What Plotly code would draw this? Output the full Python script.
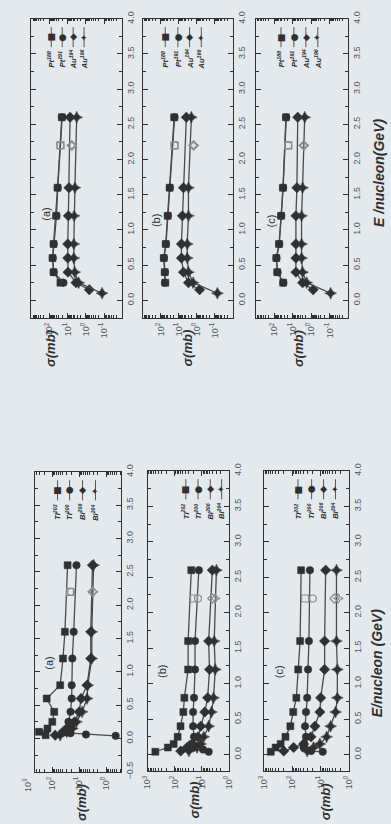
import plotly.graph_objects as go

# ---------------- data ----------------
# Top row : Pt / Au products, panels (a) (b) (c)
E_pt = [0.25, 0.4, 0.6, 0.8, 1.2, 1.6, 2.6]
E_au1 = [0.15, 0.25, 0.4, 0.6, 0.8, 1.2, 1.6, 2.6]
E_au2 = [0.1, 0.25, 0.4, 0.6, 0.8, 1.2, 1.6, 2.6]
E_exp = [2.2]

ta_pt188 = [25, 60, 68, 60, 43, 36, 21]
ta_pt191 = [17, 58, 66, 58, 41, 35, 20]
ta_au1 = [0.65, 3.5, 9.6, 9.9, 9.9, 9.2, 8.5, 7.4]
ta_au2 = [0.13, 2.5, 4.1, 4.6, 4.6, 4.4, 4.0, 3.2]
ta_exp_pt = [25]
ta_exp_au = [5.9]

tb_pt188 = [56, 60, 68, 53, 41, 32, 18]
tb_pt191 = [58, 58, 66, 51, 40, 31, 17]
tb_au1 = [0.7, 2.9, 5.5, 7.1, 7.1, 6.3, 5.5, 3.8]
tb_au2 = [0.072, 1.6, 2.9, 3.4, 3.4, 2.9, 2.9, 2.0]
tb_exp_pt = [17]
tb_exp_au = [1.5]

tc_pt188 = [34, 71, 80, 57, 44, 35, 24]
tc_pt191 = [33, 69, 78, 55, 43, 34, 23]
tc_au1 = [0.8, 3.0, 6.9, 6.9, 6.9, 6.9, 6.1, 5.5]
tc_au2 = [0.09, 1.8, 3.0, 3.4, 3.4, 3.4, 3.0, 2.3]
tc_exp_pt = [18]
tc_exp_au = [2.6]

# Bottom row : Tl / Bi products, panels (a) (b) (c)
E_bot = [0.05, 0.1, 0.15, 0.25, 0.4, 0.6, 0.8, 1.2, 1.6, 2.6]

ba_tl202 = [178, 316, 151, 100, 85, 162, 51, 40, 34, 27]
ba_E_tl200 = [0.04, 0.06, 0.08, 0.1, 0.15, 0.25, 0.4, 0.6, 0.8, 1.2, 1.6, 2.6]
ba_tl200 = [0.44, 5.6, 21, 34, 29, 25, 21, 19, 19, 18, 16, 12.6]
ba_bi206 = [78, 40, 22, 15, 10, 8.5, 5.1, 3.7, 3.7, 3.2]
ba_bi204 = [51, 29, 18, 12.6, 7.8, 5.1, 4.8, 3.4, 3.4, 2.9]
ba_exp_tl = [22, 20]
ba_exp_bi = [3.2, 3.0]

bb_E_tl202 = [0.04, 0.1, 0.15, 0.25, 0.4, 0.6, 0.8, 1.2, 1.6, 2.6]
bb_tl202 = [516, 178, 109, 78, 61, 48, 44, 32, 32, 24.5]
bb_E_tl200 = [0.04, 0.07, 0.1, 0.15, 0.25, 0.4, 0.6, 0.8, 1.2, 1.6, 2.6]
bb_tl200 = [5.6, 9, 20, 24.5, 19.4, 21, 21, 19.4, 17.8, 17.8, 12.9]
bb_bi206 = [60, 35, 22, 13.9, 11, 7.8, 6.1, 5.2, 5.6, 4.1]
bb_bi204 = [30, 15, 11, 8.5, 5.6, 4.4, 3.7, 3.2, 3.5, 2.9]
bb_exp_tl = [19.4, 13.9]
bb_exp_bi = [4.1, 3.2]

bc_E_tl202 = [0.04, 0.1, 0.15, 0.25, 0.4, 0.6, 0.8, 1.2, 1.6, 2.6]
bc_tl202 = [570, 385, 257, 174, 117, 93, 72, 62, 53, 49]
bc_E_tl200 = [0.04, 0.05, 0.1, 0.15, 0.25, 0.4, 0.6, 0.8, 1.2, 1.6, 2.6]
bc_tl200 = [8.5, 22, 40, 38, 33, 35.6, 33, 30, 28, 26, 24]
bc_bi206 = [200, 90, 40, 22, 16, 10.7, 10, 7.3, 7.3, 6.7]
bc_bi204 = [30, 18, 10.7, 6.2, 4.5, 3.0, 2.6, 2.6, 2.8, 2.8]
bc_exp_tl = [35.6, 19]
bc_exp_bi = [3.3, 2.4]

top_legend = ["Pt<sup>188</sup>", "Pt<sup>191</sup>", "Au<sup>194</sup>", "Au<sup>196</sup>"]
bot_legend = ["Tl<sup>202</sup>", "Tl<sup>200</sup>", "Bi<sup>206</sup>", "Bi<sup>204</sup>"]
panel_tags = ["(a)", "(b)", "(c)"]

# ---------------- styling / layout ----------------
W, H = 391, 824
BG = "#e3e9ed"
INK = "#303030"
LINE = "#4a4a4a"
OPEN = "#8a8a8a"
FONT = "Liberation Sans, Arial, sans-serif"

# panel frames in pixels: (left, right, top, bottom)
frames = [
    (25, 119, 11, 316), (140, 233, 11, 316), (257, 352, 11, 316),
    (29, 118, 473, 779), (145, 229, 472, 778), (265, 353, 472, 778),
]
sig_ranges = [[3, -2], [3, -2], [3, -2], [2.64, -0.57], [3.0, 0.0], [3.0, 0.0]]
E_ranges = [[-0.25, 4.0]] * 3 + [[-0.5, 4.0], [-0.23, 4.0], [-0.23, 4.0]]
sig_ticks = [[100, 10, 1, 0.1]] * 3 + [[100, 10, 1], [1000, 100, 10, 1], [1000, 100, 10, 1]]
sup = {1000: "3", 100: "2", 10: "1", 1: "0", 0.1: "-1"}
minor_vals = [k * 10.0 ** p for p in range(-3, 4) for k in range(2, 10)]


def sfx(n):
    return "" if n == 1 else str(n)


fig = go.Figure()


def series(n, E, sig, symbol, size=7.5):
    fig.add_trace(go.Scatter(
        x=sig, y=E, xaxis="x" + sfx(n), yaxis="y" + sfx(n), mode="lines+markers",
        line=dict(color=LINE, width=1.3),
        marker=dict(symbol=symbol, size=size, color=INK, line=dict(color=INK, width=0.5)),
        showlegend=False, hoverinfo="skip", cliponaxis=True))


def exp_pts(n, vals, symbols):
    for v, s in zip(vals, symbols):
        fig.add_trace(go.Scatter(
            x=[v], y=E_exp, xaxis="x" + sfx(n), yaxis="y" + sfx(n), mode="markers",
            marker=dict(symbol=s, size=7, color=OPEN, line=dict(color=OPEN, width=1.2)),
            showlegend=False, hoverinfo="skip"))


# top panels
top_sets = [
    (ta_pt188, ta_pt191, ta_au1, ta_au2, ta_exp_pt, ta_exp_au),
    (tb_pt188, tb_pt191, tb_au1, tb_au2, tb_exp_pt, tb_exp_au),
    (tc_pt188, tc_pt191, tc_au1, tc_au2, tc_exp_pt, tc_exp_au),
]
for i, (p1, p2, a1, a2, ep, ea) in enumerate(top_sets):
    n = i + 1
    series(n, E_au1, a1, "diamond", 8)
    series(n, E_au2, a2, "star-diamond", 8.5)
    series(n, E_pt, p2, "circle", 7.5)
    series(n, E_pt, p1, "square", 7)
    exp_pts(n, ep * 2, ["square-open", "circle-open"])
    exp_pts(n, ea * 2, ["diamond-open", "star-diamond-open"])

bot_sets = [
    (E_bot, ba_tl202, ba_E_tl200, ba_tl200, ba_bi206, ba_bi204, ba_exp_tl, ba_exp_bi),
    (bb_E_tl202, bb_tl202, bb_E_tl200, bb_tl200, bb_bi206, bb_bi204, bb_exp_tl, bb_exp_bi),
    (bc_E_tl202, bc_tl202, bc_E_tl200, bc_tl200, bc_bi206, bc_bi204, bc_exp_tl, bc_exp_bi),
]
for i, (et2, t2, et0, t0, b6, b4, etl, ebi) in enumerate(bot_sets):
    n = i + 4
    series(n, E_bot, b4, "star-diamond", 8.5)
    series(n, E_bot, b6, "diamond", 8)
    series(n, et0, t0, "circle", 7.5)
    series(n, et2, t2, "square", 7)
    exp_pts(n, etl, ["square-open", "circle-open"])
    exp_pts(n, ebi, ["diamond-open", "star-diamond-open"])

layout = dict(
    width=W, height=H, margin=dict(l=0, r=0, t=0, b=0),
    paper_bgcolor=BG, plot_bgcolor=BG, showlegend=False,
    font=dict(family=FONT, color=INK),
)
for i, (L, R, T, B) in enumerate(frames):
    n = i + 1
    tv = sig_ticks[i]
    layout["xaxis" + sfx(n)] = dict(
        domain=[L / W, R / W], anchor="y" + sfx(n), type="log", range=sig_ranges[i],
        tickmode="array", tickvals=tv, ticktext=[f"10<sup>{sup[v]}</sup>" for v in tv],
        tickangle=-90, ticks="inside", ticklen=5, tickwidth=1, tickcolor=INK,
        minor=dict(tickmode="array", tickvals=minor_vals, ticks="inside", ticklen=2.5,
                   tickwidth=0.8, tickcolor=INK, showgrid=False),
        showline=True, linecolor=INK, linewidth=1.4, mirror="ticks",
        showgrid=False, zeroline=False, tickfont=dict(size=9, color="#555555"),
    )
    layout["yaxis" + sfx(n)] = dict(
        domain=[1 - B / H, 1 - T / H], anchor="x" + sfx(n), side="right", range=E_ranges[i],
        tickmode="linear", tick0=0, dtick=0.5, tickformat=".1f",
        tickangle=-90, ticks="inside", ticklen=5, tickwidth=1, tickcolor=INK,
        minor=dict(dtick=0.25, ticks="inside", ticklen=3, tickwidth=0.8,
                   tickcolor=INK, showgrid=False),
        showline=True, linecolor=INK, linewidth=1.4, mirror="ticks",
        showgrid=False, zeroline=False, tickfont=dict(size=9, color="#555555"),
    )
fig.update_layout(**layout)

annotations = []
shapes = []


def note(xref, yref, x, y, text, size, color=INK, family=None):
    f = dict(size=size, color=color)
    if family:
        f["family"] = family
    annotations.append(dict(xref=xref, yref=yref, x=x, y=y, text=text, showarrow=False,
                            textangle=-90, xanchor="center", yanchor="middle", font=f))


# legend items (x-fraction of panel)
leg_x = [
    [0.22, 0.34, 0.46, 0.58], [0.25, 0.39, 0.52, 0.65], [0.27, 0.41, 0.54, 0.67],
    [0.26, 0.40, 0.55, 0.70], [0.47, 0.62, 0.77, 0.91], [0.40, 0.56, 0.70, 0.84],
]
leg_sym = ["■", "●", "◆", "✦"]
for i in range(6):
    n = i + 1
    xr = "x" + sfx(n) + " domain"
    yr = "y" + sfx(n) + " domain"
    labels = top_legend if i < 3 else bot_legend
    for j in range(4):
        xf = leg_x[i][j]
        shapes.append(dict(type="line", xref=xr, yref=yr,
                           x0=xf, x1=xf, y0=0.905, y1=0.972,
                           line=dict(color="#555555", width=1)))
        note(xr, yr, xf, 0.938, leg_sym[j], 9, family="DejaVu Sans")
        note(xr, yr, xf, 0.865, f"<b><i>{labels[j]}</i></b>", 7.5)

# panel tags
tag_pos = [(40, 210), (153, 217), (272, 217), (43, 668), (160, 677), (280, 677)]
for i, (px, py) in enumerate(tag_pos):
    note("paper", "paper", px / W, 1 - py / H, panel_tags[i % 3], 11)

# sigma axis titles
sig_title_pos = [(45, 347), (186, 347), (300, 347), (77, 810), (193, 808), (328, 809)]
for px, py in sig_title_pos:
    note("paper", "paper", px / W, 1 - py / H, "<b><i>σ(mb)</i></b>", 13)

# energy axis titles
note("paper", "paper", 383 / W, 1 - 168 / H, "<b><i>E /nucleon(GeV)</i></b>", 14)
note("paper", "paper", 382 / W, 1 - 668 / H, "<b><i>E/nucleon (GeV)</i></b>", 14)

# stray 10^3 label of the lower-left panel (outside its frame)
note("paper", "paper", 20 / W, 1 - 792 / H, "10<sup>3</sup>", 9, color="#555555")

fig.update_layout(annotations=annotations, shapes=shapes)
fig.write_html(
    "out.html",
    config={"displayModeBar": False},
    post_script="document.body.style.margin='0px';document.body.style.background='#e3e9ed';",
)
